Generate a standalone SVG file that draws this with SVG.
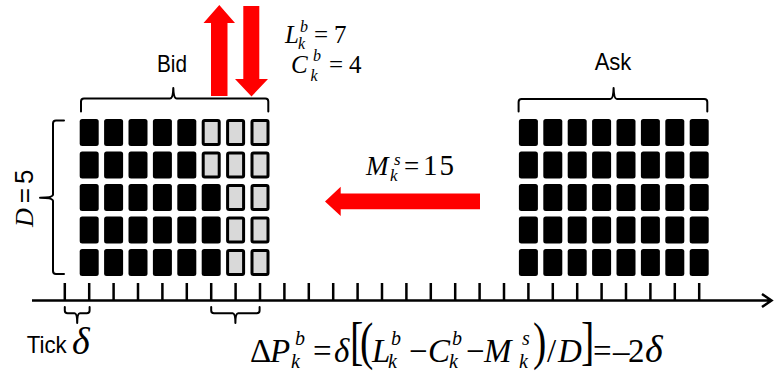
<svg xmlns="http://www.w3.org/2000/svg" width="774" height="371" viewBox="0 0 774 371">
<defs>
<style>
.cell{fill:#000}
.gcell{fill:#d9d9d9;stroke:#000;stroke-width:3}
.brace{fill:none;stroke:#000;stroke-width:2;stroke-linejoin:round;stroke-linecap:round}
.axis{fill:none;stroke:#000;stroke-width:2.5}
.red{fill:#ff0000}
.sans{font-family:"Liberation Sans",Arial,sans-serif;fill:#000}
.m{font-family:"Liberation Serif","Times New Roman",serif;fill:#000}
.i{font-style:italic}
</style>
<symbol id="c" overflow="visible"><rect class="cell" x="0" y="0" width="19" height="27" rx="2.5"/></symbol>
<symbol id="g" overflow="visible"><rect class="gcell" x="1.5" y="1.5" width="16" height="24" rx="1.5"/></symbol>
</defs>
<rect width="774" height="371" fill="#fff"/>

<g id="bid-book">
<g id="bid-row0">
<use href="#c" x="79.7" y="119"/><use href="#c" x="104.1" y="119"/><use href="#c" x="128.5" y="119"/><use href="#c" x="152.9" y="119"/><use href="#c" x="177.3" y="119"/><use href="#g" x="201.7" y="119"/><use href="#g" x="226.1" y="119"/><use href="#g" x="250.5" y="119"/>
</g>
<g id="bid-row1">
<use href="#c" x="79.7" y="151.5"/><use href="#c" x="104.1" y="151.5"/><use href="#c" x="128.5" y="151.5"/><use href="#c" x="152.9" y="151.5"/><use href="#c" x="177.3" y="151.5"/><use href="#g" x="201.7" y="151.5"/><use href="#g" x="226.1" y="151.5"/><use href="#g" x="250.5" y="151.5"/>
</g>
<g id="bid-row2">
<use href="#c" x="79.7" y="184"/><use href="#c" x="104.1" y="184"/><use href="#c" x="128.5" y="184"/><use href="#c" x="152.9" y="184"/><use href="#c" x="177.3" y="184"/><use href="#c" x="201.7" y="184"/><use href="#g" x="226.1" y="184"/><use href="#g" x="250.5" y="184"/>
</g>
<g id="bid-row3">
<use href="#c" x="79.7" y="216.5"/><use href="#c" x="104.1" y="216.5"/><use href="#c" x="128.5" y="216.5"/><use href="#c" x="152.9" y="216.5"/><use href="#c" x="177.3" y="216.5"/><use href="#c" x="201.7" y="216.5"/><use href="#g" x="226.1" y="216.5"/><use href="#g" x="250.5" y="216.5"/>
</g>
<g id="bid-row4">
<use href="#c" x="79.7" y="249"/><use href="#c" x="104.1" y="249"/><use href="#c" x="128.5" y="249"/><use href="#c" x="152.9" y="249"/><use href="#c" x="177.3" y="249"/><use href="#c" x="201.7" y="249"/><use href="#g" x="226.1" y="249"/><use href="#g" x="250.5" y="249"/>
</g>
</g>

<g id="ask-book">
<g id="ask-row0"><use href="#c" x="518.9" y="119"/><use href="#c" x="543.3" y="119"/><use href="#c" x="567.7" y="119"/><use href="#c" x="592.1" y="119"/><use href="#c" x="616.5" y="119"/><use href="#c" x="640.9" y="119"/><use href="#c" x="665.3" y="119"/><use href="#c" x="689.7" y="119"/></g>
<g id="ask-row1"><use href="#c" x="518.9" y="151.5"/><use href="#c" x="543.3" y="151.5"/><use href="#c" x="567.7" y="151.5"/><use href="#c" x="592.1" y="151.5"/><use href="#c" x="616.5" y="151.5"/><use href="#c" x="640.9" y="151.5"/><use href="#c" x="665.3" y="151.5"/><use href="#c" x="689.7" y="151.5"/></g>
<g id="ask-row2"><use href="#c" x="518.9" y="184"/><use href="#c" x="543.3" y="184"/><use href="#c" x="567.7" y="184"/><use href="#c" x="592.1" y="184"/><use href="#c" x="616.5" y="184"/><use href="#c" x="640.9" y="184"/><use href="#c" x="665.3" y="184"/><use href="#c" x="689.7" y="184"/></g>
<g id="ask-row3"><use href="#c" x="518.9" y="216.5"/><use href="#c" x="543.3" y="216.5"/><use href="#c" x="567.7" y="216.5"/><use href="#c" x="592.1" y="216.5"/><use href="#c" x="616.5" y="216.5"/><use href="#c" x="640.9" y="216.5"/><use href="#c" x="665.3" y="216.5"/><use href="#c" x="689.7" y="216.5"/></g>
<g id="ask-row4"><use href="#c" x="518.9" y="249"/><use href="#c" x="543.3" y="249"/><use href="#c" x="567.7" y="249"/><use href="#c" x="592.1" y="249"/><use href="#c" x="616.5" y="249"/><use href="#c" x="640.9" y="249"/><use href="#c" x="665.3" y="249"/><use href="#c" x="689.7" y="249"/></g>
</g>

<g id="braces">
<path class="brace" d="M81 111.5 V101.5 Q81 98.5 84 98.5 H170 Q173 98.5 173.3 88 Q173.6 98.5 176.6 98.5 H265.3 Q268.3 98.5 268.3 101.5 V111.5"/>
<path class="brace" d="M518.6 111.5 V102 Q518.6 99 521.6 99 H610.3 Q613.3 99 613.6 88 Q613.9 99 616.9 99 H704.3 Q707.3 99 707.3 102 V111.5"/>
<path class="brace" d="M64 120.5 H56 Q53 120.5 53 123.5 V194.5 Q53 197.7 40 197.7 Q53 197.7 53 201 V271 Q53 274 56 274 H64"/>
<path class="brace" d="M64.8 307 V310.5 Q64.8 313.3 67.6 313.3 H74.5 Q77.2 313.3 77.2 323 Q77.2 313.3 79.9 313.3 H86.8 Q89.6 313.3 89.6 310.5 V307"/>
<path class="brace" d="M211.2 307 V310.5 Q211.2 313.3 214 313.3 H232.6 Q235.4 313.3 235.4 323 Q235.4 313.3 238.2 313.3 H256.8 Q259.6 313.3 259.6 310.5 V307"/>
</g>

<g id="axis">
<path class="axis" d="M32 300.5 H771 M762 294 L771.5 300.5 L762 307"/>
<path class="axis" d="M64.8 283 V300 M89.2 283 V300 M113.6 283 V300 M138 283 V300 M162.4 283 V300 M186.8 283 V300 M211.2 283 V300 M235.6 283 V300 M260 283 V300 M284.4 283 V300 M308.8 283 V300 M333.2 283 V300 M357.6 283 V300 M382 283 V300 M406.4 283 V300 M430.8 283 V300 M455.2 283 V300 M479.6 283 V300 M504 283 V300 M528.4 283 V300 M552.8 283 V300 M577.2 283 V300 M601.6 283 V300 M626 283 V300 M650.4 283 V300 M674.8 283 V300 M699.2 283 V300"/>
</g>

<g id="connectors">
<path class="red" d="M219.3 5 L235 23 H227.5 V96 H211 V23 H203.5 Z"/>
<path class="red" d="M243.3 6 H259.3 V79 H268 L251.5 96.5 L235 79 H243.3 Z"/>
<path class="red" d="M325 201.5 L340.7 186.7 V193.5 H480 V209.3 H340.7 V216 Z"/>
</g>

<g id="labels">
<text class="sans" x="172" y="71.5" font-size="24" text-anchor="middle" textLength="30" lengthAdjust="spacingAndGlyphs">Bid</text>
<text class="sans" x="613" y="70" font-size="24" text-anchor="middle" textLength="36.7" lengthAdjust="spacingAndGlyphs">Ask</text>
<text class="sans" x="26.7" y="353" font-size="24" textLength="40" lengthAdjust="spacingAndGlyphs">Tick</text>
<text class="m i" x="72" y="354" font-size="38">δ</text>
<g transform="translate(33,227) rotate(-90)">
<text x="0" y="0" font-size="26"><tspan class="m i">D</tspan><tspan class="sans" dx="5">=</tspan><tspan class="sans" dx="4">5</tspan></text>
</g>
</g>

<g id="eq-L">
<text class="m i" x="285" y="43" font-size="25">L</text>
<text class="m i" x="300" y="31.5" font-size="16">b</text>
<text class="m i" x="298" y="49" font-size="16">k</text>
<text class="m" x="314" y="43" font-size="25">=</text>
<text class="m" x="334" y="43" font-size="25">7</text>
</g>
<g id="eq-C">
<text class="m i" x="291" y="72.5" font-size="25">C</text>
<text class="m i" x="313" y="61" font-size="16">b</text>
<text class="m i" x="310.5" y="80.5" font-size="16">k</text>
<text class="m" x="329" y="72.5" font-size="25">=</text>
<text class="m" x="349" y="72.5" font-size="25">4</text>
</g>
<g id="eq-M">
<text class="m i" x="366" y="175" font-size="27">M</text>
<text class="m i" x="394" y="165" font-size="17">s</text>
<text class="m i" x="390" y="181" font-size="17">k</text>
<text class="m" x="404" y="175" font-size="27">=</text>
<text class="m" x="423" y="175" font-size="29" letter-spacing="2">15</text>
</g>

<g id="eq-dP">
<text class="m" x="250" y="362" font-size="33">Δ</text>
<text class="m i" x="270" y="362" font-size="33">P</text>
<text class="m i" x="295" y="345" font-size="20">b</text>
<text class="m i" x="291" y="368" font-size="20">k</text>
<text class="m" x="313" y="362" font-size="33">=</text>
<text class="m i" x="334" y="362" font-size="33">δ</text>
<text class="m" font-size="40" transform="translate(350,359) scale(1,1.3)">[</text>
<text class="m" font-size="40" transform="translate(360,359) scale(1,1.3)">(</text>
<text class="m i" x="372" y="362" font-size="33">L</text>
<text class="m i" x="391" y="345" font-size="20">b</text>
<text class="m i" x="388" y="368" font-size="20">k</text>
<text class="m" x="409" y="362" font-size="33">−</text>
<text class="m i" x="428" y="362" font-size="33">C</text>
<text class="m i" x="452" y="345" font-size="20">b</text>
<text class="m i" x="449" y="368" font-size="20">k</text>
<text class="m" x="466" y="362" font-size="33">−</text>
<text class="m i" x="484" y="362" font-size="33">M</text>
<text class="m i" x="522" y="345" font-size="20">s</text>
<text class="m i" x="519" y="368" font-size="20">k</text>
<text class="m" font-size="40" transform="translate(533,359) scale(1,1.3)">)</text>
<text class="m" x="547" y="362" font-size="33">/</text>
<text class="m i" x="558" y="362" font-size="33">D</text>
<text class="m" font-size="40" transform="translate(581,359) scale(1,1.3)">]</text>
<text class="m" x="593" y="362" font-size="33">=</text>
<text class="m" x="613" y="362" font-size="33">–</text>
<text class="m" x="628" y="362" font-size="33">2</text>
<text class="m i" x="645" y="362" font-size="38">δ</text>
</g>
</svg>
